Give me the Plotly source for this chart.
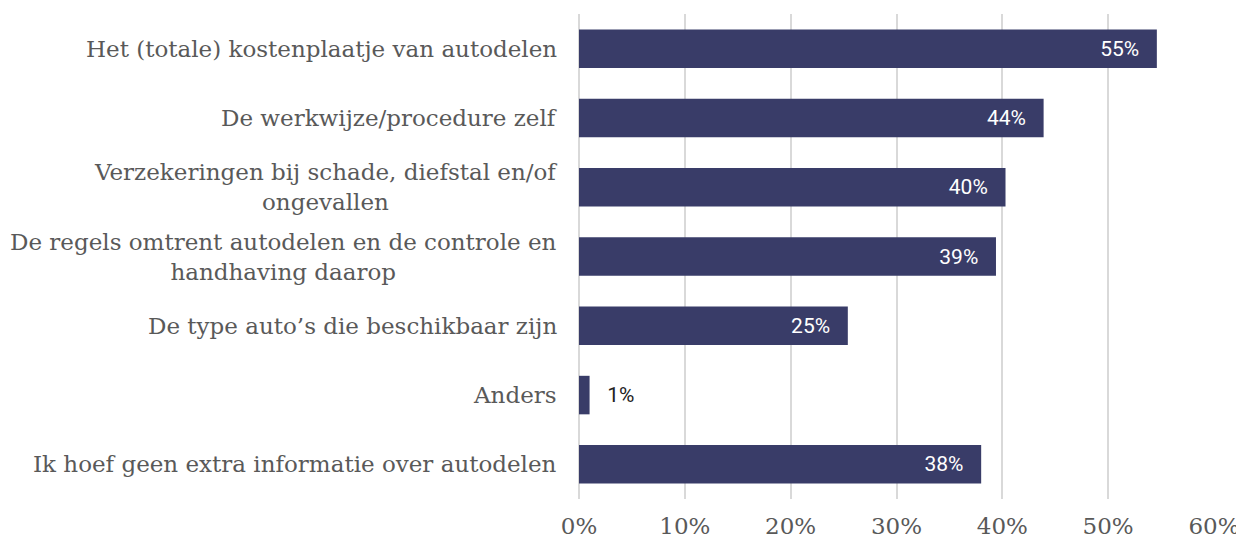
import plotly.graph_objects as go

categories = [
    "Het (totale) kostenplaatje van autodelen",
    "De werkwijze/procedure zelf",
    "Verzekeringen bij schade, diefstal en/of<br>ongevallen",
    "De regels omtrent autodelen en de controle en<br>handhaving daarop",
    "De type auto’s die beschikbaar zijn",
    "Anders",
    "Ik hoef geen extra informatie over autodelen",
]
values = [54.6, 43.9, 40.3, 39.4, 25.4, 1.0, 38.0]
tick_vals = [0, 10, 20, 30, 40, 50, 60]
tick_text = ["0%", "10%", "20%", "30%", "40%", "50%", "60%"]

bar_color = "#393c68"
text_color = "#595959"
grid_color = "#d9d9d9"
pad = "\u00a0\u00a0\u2009"

labels = []
positions = []
for v in values:
    if v > 5:
        labels.append(f"{v:.0f}%{pad}")
        positions.append("inside")
    else:
        labels.append(f"{pad}{v:.0f}%")
        positions.append("outside")

fig = go.Figure()
fig.add_trace(
    go.Bar(
        x=values,
        y=categories,
        orientation="h",
        marker=dict(color=bar_color, line=dict(width=0)),
        text=labels,
        textposition=positions,
        insidetextanchor="end",
        insidetextfont=dict(family="Roboto", size=21, color="white"),
        outsidetextfont=dict(family="Roboto", size=21, color="#222222"),
        cliponaxis=False,
        hoverinfo="skip",
    )
)

# category labels as annotations so the wrapped lines stay centred
annotations = []
for cat in categories:
    annotations.append(
        dict(
            x=0,
            y=cat,
            xref="paper",
            yref="y",
            text=cat,
            showarrow=False,
            xanchor="right",
            yanchor="middle",
            align="center",
            xshift=-20,
            font=dict(family="DejaVu Serif", size=23, color=text_color),
        )
    )

# the page body adds an 8px margin, so the figure is 8px smaller
fig.update_layout(
    width=1236,
    height=532,
    plot_bgcolor="white",
    paper_bgcolor="white",
    bargap=0.444,
    showlegend=False,
    margin=dict(l=571, r=30, t=6, b=41, autoexpand=False),
    annotations=annotations,
)
fig.update_xaxes(
    range=[0, 60],
    tickvals=tick_vals,
    ticktext=tick_text,
    showgrid=True,
    gridcolor=grid_color,
    gridwidth=2,
    zeroline=True,
    zerolinecolor=grid_color,
    zerolinewidth=2,
    showline=False,
    ticks="",
    automargin=False,
    tickfont=dict(family="DejaVu Serif", size=23, color=text_color),
    ticklabelstandoff=11,
)
fig.update_yaxes(
    autorange="reversed",
    showticklabels=False,
    showgrid=False,
    zeroline=False,
    showline=False,
    ticks="",
    automargin=False,
)

fig.write_html("out.html")
